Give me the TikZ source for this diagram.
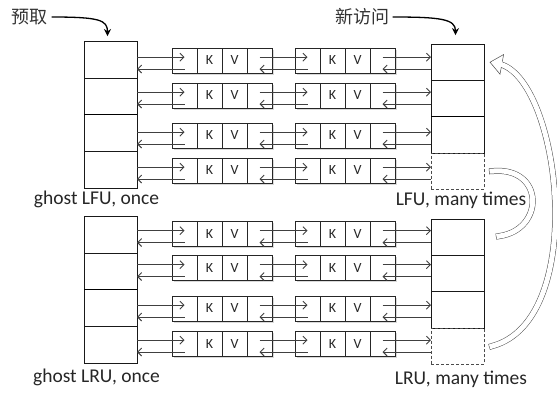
\documentclass[tikz,border=0pt]{standalone}
\usepackage{fontspec}
\setmainfont{Carlito}
\newfontfamily\cjk{Noto Sans CJK SC}
\usetikzlibrary{positioning,shadows,arrows.meta,decorations.markings}

\tikzset{
  cell/.style={draw=black!85, fill=white, minimum width=25pt, minimum height=25pt,
    inner sep=0pt, outer sep=0pt, text=black!85, font=\fontsize{14}{14}\selectfont,
    drop shadow={shadow xshift=1.5pt, shadow yshift=-1.5pt, opacity=0.3}},
  slot/.style={draw=black!90, minimum width=53pt, minimum height=36.75pt, inner sep=0pt, outer sep=0pt},
  emptyslot/.style={slot, draw=black!70, dash pattern=on 3pt off 2pt},
  ptr/.style={draw=black!75, line width=0.9pt, -{Straight Barb[length=4pt,width=8pt]}},
  note/.style={font=\fontsize{19.5}{20}\selectfont, text=black!85},
  hint/.style={font=\cjk\fontsize{18}{18}\selectfont, text=black!80},
  hook/.style={line width=1.3pt, -{Stealth[length=7pt,width=7pt]}},
  hollow/.style={draw=black!70, line width=6pt, line cap=rect, shorten >=8pt,
    postaction={draw=white, line width=5pt},
    postaction={draw=none, decorate},
    decoration={markings, mark=at position 0.9999 with {
      \draw[draw=black!70, line width=0.5pt, fill=white, line join=miter, line cap=butt, shorten >=0pt]
        (-12pt,2.75pt) -- (-12pt,10pt) -- (0pt,0pt) -- (-12pt,-10pt) -- (-12pt,-2.75pt);}}}
}

\begin{document}
\begin{tikzpicture}[x=1pt,y=-1pt]
  \useasboundingbox (0,0) rectangle (557,392);

  % ghost columns on the left
  \node[slot] (l1) at (110.5,59.4) {};
  \node[slot, below=0pt of l1] (l2) {};
  \node[slot, below=0pt of l2] (l3) {};
  \node[slot, below=0pt of l3] (l4) {};
  \node[slot] (l5) at (110.5,234.4) {};
  \node[slot, below=0pt of l5] (l6) {};
  \node[slot, below=0pt of l6] (l7) {};
  \node[slot, below=0pt of l7] (l8) {};
  \draw[line width=1.2pt] (l3.north west) -- (l3.north east);
  \draw[line width=1.2pt] (l7.north west) -- (l7.north east);

  % real columns on the right
  \tikzset{slot/.append style={minimum height=36.3pt}}
  \node[slot] (r1) at (457.5,62.2) {};
  \node[slot, below=0pt of r1] (r2) {};
  \node[slot, below=0pt of r2] (r3) {};
  \node[emptyslot, below=0pt of r3] (r4) {};
  \node[slot] (r5) at (457.5,237.2) {};
  \node[slot, below=0pt of r5] (r6) {};
  \node[slot, below=0pt of r6] (r7) {};
  \node[emptyslot, below=0pt of r7] (r8) {};
  \draw[line width=1.2pt] (r3.north west) -- (r3.north east);

  % linked entries, two per row
  \foreach \i/\y in {1/60.5,2/95.5,3/135.5,4/170.5,5/234,6/268,7/308.5,8/343.5} {
    \node[cell] (pa\i) at (184.5,\y) {};
    \node[cell, right=0pt of pa\i] (ka\i) {K};
    \node[cell, right=0pt of ka\i] (va\i) {V};
    \node[cell, right=0pt of va\i] (na\i) {};
    \node[cell] (pb\i) at (307.5,\y) {};
    \node[cell, right=0pt of pb\i] (kb\i) {K};
    \node[cell, right=0pt of kb\i] (vb\i) {V};
    \node[cell, right=0pt of vb\i] (nb\i) {};
    \coordinate (hi\i) at ([yshift=3.3pt]pa\i.center);
    \coordinate (lo\i) at ([yshift=-8.5pt]pa\i.center);
    \draw[ptr] (hi\i -| l\i.east) -- (hi\i);
    \draw[ptr] (lo\i) -- (lo\i -| l\i.east);
    \draw[ptr] (hi\i -| na\i) -- (hi\i -| pb\i);
    \draw[ptr] (lo\i -| pb\i) -- (lo\i -| na\i);
    \draw[ptr] (hi\i -| nb\i) -- (hi\i -| r\i.west);
    \draw[ptr] (lo\i -| r\i.west) -- (lo\i -| nb\i);
  }

  % captions
  \node[note] (glfu) at (96.5,199) {ghost LFU, once};
  \node[note] (lfu) at (461,200) {LFU, many times};
  \node[note] (glru) at (96.5,377) {ghost LRU, once};
  \node[note] (lru) at (461,379) {LRU, many times};

  % entry points
  \node[hint] (pre) at (30,17) {预取};
  \node[hint] (new) at (362,17) {新访问};
  \draw[hook] (pre.east) .. controls +(48,0) and +(0,-16) .. ([shift={(-3pt,5pt)}]l1.north);
  \draw[hook] (new.east) .. controls +(48,0) and +(0,-16) .. ([shift={(-2pt,9pt)}]r1.north);

  % promotions
  \draw[hollow] ([xshift=8pt]r8.east) .. controls (590,320) and (560,75) .. ([xshift=6pt]r1.east);
  \draw[hollow] ([xshift=8pt]r4.east) .. controls (545,166) and (545,230) .. ([xshift=7pt]r5.east);
\end{tikzpicture}
\end{document}
